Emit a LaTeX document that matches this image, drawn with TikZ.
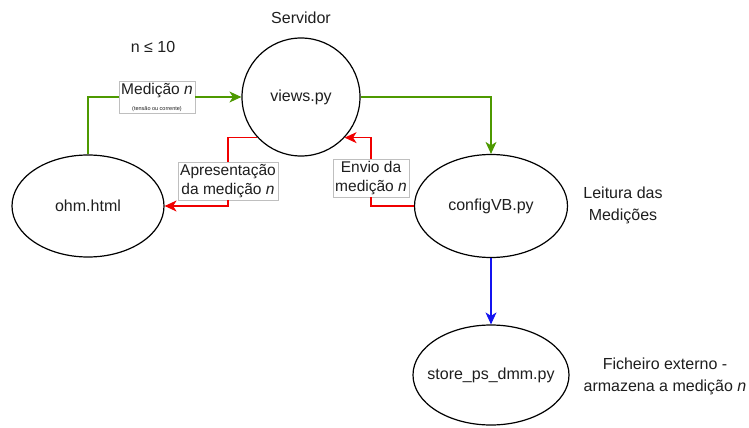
\documentclass[tikz,border=0pt]{standalone}
\usepackage{fontspec}
\setmainfont{Liberation Sans}
\usepackage{tikz}
\usetikzlibrary{arrows.meta,positioning,shapes.geometric}
\definecolor{lnkgreen}{RGB}{77,153,0}
\definecolor{lnkred}{RGB}{240,0,0}
\definecolor{lnkblue}{RGB}{20,20,240}
\definecolor{txtgray}{RGB}{30,30,30}
\tikzset{
  proc/.style  ={ellipse,draw,line width=1.2pt,inner sep=0pt,text=txtgray,
                 font=\fontsize{16}{19}\selectfont},
  lbl/.style   ={draw=gray!50,fill=white,inner sep=2pt,align=center,text=txtgray,
                 font=\fontsize{15.5}{19}\selectfont},
  note/.style  ={align=center,text=txtgray,font=\fontsize{16}{22}\selectfont},
  tip/.style   ={-{Stealth[length=12pt,width=11pt,inset=3.5pt]}},
  garr/.style  ={tip,line width=1.2pt,lnkgreen},
  rarr/.style  ={tip,line width=1.2pt,lnkred},
  barr/.style  ={tip,line width=1.2pt,lnkblue},
}

\begin{document}
\begin{tikzpicture}[x=1pt,y=-1pt]
  \useasboundingbox (0,0) rectangle (749,428);
  % processes
  \node[proc,minimum width=118,minimum height=118] (views) at (301,97){views.py};
  \node[proc,minimum width=152,minimum height=102] (ohm) at (88,206){ohm.html};
  \node[proc,minimum width=153,minimum height=103] (cfg) at (491,206){configVB.py};
  \node[proc,minimum width=156,minimum height=100,inner xsep=-22pt] (store) at (491,375){store\_ps\_dmm.py};
  % free texts
  \node[note] (srv) at (301,18){Servidor};
  \node[note] (lim) at (153,47){n ≤ 10};
  \node[note] (leit) at (623,205){Leitura das\\Medições};
  \node[note] (fich) at (665,376){Ficheiro externo -\\armazena a medição \textit{n}};
  % edge labels
  \node[lbl] (med) at (157,97){Medição \textit{n}\\[-3pt]{\fontsize{5.5}{6}\selectfont (tensão ou corrente)}};
  \node[lbl] (apres) at (228,181){Apresentação\\da medição \textit{n}};
  \node[lbl] (envio) at (371,178){Envio da\\medição \textit{n}};
  % connectors
  \draw[line width=1.2pt,lnkgreen] (ohm.north) |- (med.west);
  \draw[garr] (med.east) -- (views.west);
  \draw[garr] (views.east) -| (cfg.north);
  \draw[line width=1.2pt,lnkred] (views.223) -| (apres.north);
  \draw[rarr] (apres.south) |- (ohm.east);
  \draw[line width=1.2pt,lnkred] (cfg.west) -| (envio.south);
  \draw[rarr] (envio.north) |- (views.317);
  \draw[barr] (cfg.south) -- (store.north);
\end{tikzpicture}
\end{document}
